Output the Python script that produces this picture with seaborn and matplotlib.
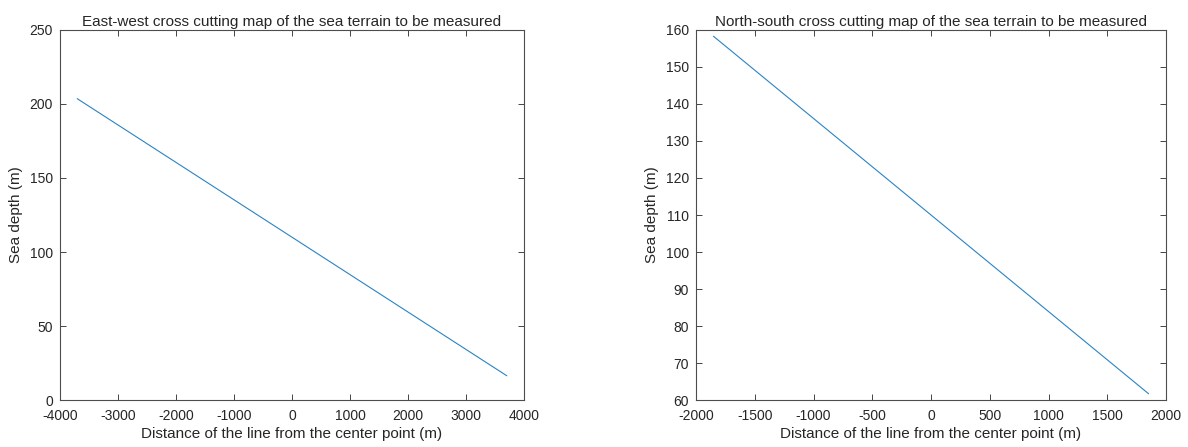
import pandas as pd
import seaborn as sns
import matplotlib.pyplot as plt

# values
ew_distance = [-3704, 0, 3704]
ew_depth = [203.6, 110.0, 16.4]

ns_distance = [-1852, 0, 1852]
ns_depth = [158.3, 110.0, 61.7]

ew_xticks = [-4000, -3000, -2000, -1000, 0, 1000, 2000, 3000, 4000]
ew_yticks = [0, 50, 100, 150, 200, 250]
ns_xticks = [-2000, -1500, -1000, -500, 0, 500, 1000, 1500, 2000]
ns_yticks = [60, 70, 80, 90, 100, 110, 120, 130, 140, 150, 160]

xlabel = "Distance of the line from the center point (m)"
ylabel = "Sea depth (m)"
titles = ["East-west cross cutting map of the sea terrain to be measured",
          "North-south cross cutting map of the sea terrain to be measured"]


def main():
    sns.set_theme(style="ticks")
    plt.rcParams['font.family'] = ['Liberation Sans', 'DejaVu Sans']
    fs = 10      # tick labels
    fs_lab = 11  # titles and axis labels (MATLAB 1.1x)

    fig = plt.figure(figsize=(11.88, 4.47), dpi=100)
    ax1 = fig.add_axes([0.0505, 0.105, 0.3906, 0.8280])
    ax2 = fig.add_axes([0.5859, 0.105, 0.3956, 0.8280])

    df_ew = pd.DataFrame({"x": ew_distance, "y": ew_depth})
    df_ns = pd.DataFrame({"x": ns_distance, "y": ns_depth})

    panels = [
        (ax1, df_ew, ew_xticks, ew_yticks, titles[0]),
        (ax2, df_ns, ns_xticks, ns_yticks, titles[1]),
    ]
    for ax, df, xt, yt, title in panels:
        sns.lineplot(data=df, x="x", y="y", ax=ax, color="#2a84c4", linewidth=0.8)
        ax.set_xlim(xt[0], xt[-1])
        ax.set_ylim(yt[0], yt[-1])
        ax.set_xticks(xt)
        ax.set_yticks(yt)
        ax.set_xticklabels([str(v) for v in xt])
        ax.set_yticklabels([str(v) for v in yt])
        ax.set_title(title, fontsize=fs_lab, color="#262626", pad=3)
        ax.set_xlabel(xlabel, fontsize=fs_lab, color="#262626", labelpad=3)
        ax.set_ylabel(ylabel, fontsize=fs_lab, color="#262626", labelpad=5)
        ax.tick_params(direction="in", top=True, right=True, length=4,
                       width=0.6, color="#262626", labelsize=fs,
                       labelcolor="#262626")
        ax.tick_params(axis="x", pad=6.5)
        ax.tick_params(axis="y", pad=5)
        for sp in ax.spines.values():
            sp.set_visible(True)
            sp.set_color("#4d4d4d")
            sp.set_linewidth(0.8)

    fig.savefig("out.png", dpi=100)
    plt.close(fig)


if __name__ == "__main__":
    main()
